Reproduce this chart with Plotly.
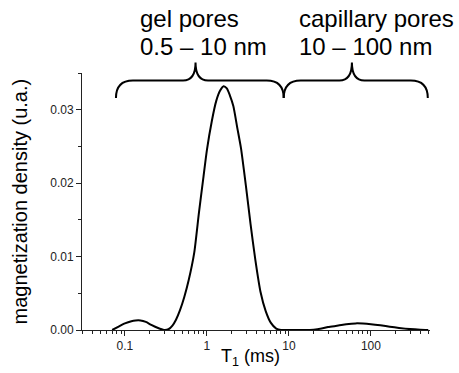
import plotly.graph_objects as go

# ---- data ----
t1_ms = [0.07, 0.085, 0.1, 0.12, 0.135, 0.155, 0.18, 0.21, 0.25, 0.30, 0.34, 0.38, 0.42, 0.47,
         0.53, 0.60, 0.70, 0.80, 0.90, 1.0, 1.15, 1.3, 1.45, 1.6, 1.75, 1.9, 2.1, 2.35, 2.6,
         3.0, 3.4, 3.9, 4.5, 5.2, 6.0, 7.0, 8.0, 10, 15, 20, 25, 30, 40, 50, 65, 80, 100,
         130, 170, 220, 300, 400, 500]
density = [0.0, 0.0005, 0.0009, 0.0012, 0.0013, 0.0013, 0.0011, 0.0007, 0.0003, 0.0, 0.0001,
           0.0006, 0.0014, 0.0027, 0.0045, 0.0068, 0.0105, 0.0160, 0.0205, 0.0245, 0.0285,
           0.0312, 0.0326, 0.0332, 0.0329, 0.0320, 0.0305, 0.0275, 0.0248, 0.0195, 0.0145,
           0.0095, 0.0052, 0.0026, 0.0010, 0.0002, 0.0, 0.0, 0.0, 0.00005, 0.0002, 0.0004,
           0.0006, 0.00078, 0.0009, 0.00088, 0.0008, 0.00065, 0.00045, 0.00028, 0.00012,
           0.00003, 0.0]

x_tickvals = [0.1, 1, 10, 100]
x_ticktext = ["0.1", "1", "10", "100"]
x_minor = [0.03, 0.04, 0.05, 0.06, 0.07, 0.08, 0.09,
           0.2, 0.3, 0.4, 0.5, 0.6, 0.7, 0.8, 0.9,
           2, 3, 4, 5, 6, 7, 8, 9,
           20, 30, 40, 50, 60, 70, 80, 90,
           200, 300, 400, 500]
y_tickvals = [0.0, 0.01, 0.02, 0.03]
y_ticktext = ["0.00", "0.01", "0.02", "0.03"]
y_minor = [0.005, 0.015, 0.025, 0.035]

region_labels = [["gel pores", "0.5 – 10 nm"], ["capillary pores", "10 – 100 nm"]]

# ---- layout geometry (pixels) ----
W, H = 459, 373
L, R, T, B = 82, 430.5, 73.3, 330.3
PW, PH = R - L, B - T


def px(x):
    return (x - L) / PW


def py(y):
    return (B - y) / PH


def brace(x0, xm, x1, ybot=98.3, yh=80.7, ytop=62.7, re=17.0, rc=12.5):
    pts = [
        f"M {px(x0)},{py(ybot)}",
        f"C {px(x0)},{py(yh + 6)} {px(x0 + 5)},{py(yh)} {px(x0 + re)},{py(yh)}",
        f"L {px(xm - rc)},{py(yh)}",
        f"C {px(xm - 3)},{py(yh)} {px(xm)},{py(yh - 7)} {px(xm)},{py(ytop)}",
        f"C {px(xm)},{py(yh - 7)} {px(xm + 3)},{py(yh)} {px(xm + rc)},{py(yh)}",
        f"L {px(x1 - re)},{py(yh)}",
        f"C {px(x1 - 5)},{py(yh)} {px(x1)},{py(yh + 6)} {px(x1)},{py(ybot)}",
    ]
    return " ".join(pts)


fig = go.Figure()
fig.add_trace(go.Scatter(x=t1_ms, y=density, mode="lines",
                         line=dict(color="black", width=2, shape="spline", smoothing=0.6),
                         hoverinfo="skip", showlegend=False, cliponaxis=False))

axis_common = dict(showline=True, linecolor="#222", linewidth=1, showgrid=False,
                   zeroline=False, ticks="outside", ticklen=5, tickwidth=1,
                   tickcolor="#222", tickfont=dict(family="Arial", size=12, color="#222"))

fig.update_xaxes(type="log", range=[-1.5229, 2.7202], tickmode="array",
                 tickvals=x_tickvals, ticktext=x_ticktext,
                 minor=dict(tickmode="array", tickvals=x_minor, ticks="outside",
                            ticklen=3, tickcolor="#222", tickwidth=1, showgrid=False),
                 **axis_common)
fig.update_yaxes(range=[0, 0.035], tickmode="array",
                 tickvals=y_tickvals, ticktext=y_ticktext,
                 minor=dict(tickmode="array", tickvals=y_minor, ticks="outside",
                            ticklen=3, tickcolor="#222", tickwidth=1, showgrid=False),
                 **axis_common)

shapes = [
    dict(type="path", xref="paper", yref="paper", path=brace(116, 195.7, 284),
         line=dict(color="black", width=2)),
    dict(type="path", xref="paper", yref="paper", path=brace(284, 352.3, 428.3),
         line=dict(color="black", width=2)),
]

ann_font = dict(family="Arial", size=24, color="black")
annotations = []
for (l1, l2), xl in zip(region_labels, [138.3, 297.3]):
    annotations.append(dict(text=l1, x=px(xl), y=py(18.7), xref="paper", yref="paper",
                            xanchor="left", yanchor="middle", showarrow=False, font=ann_font))
    annotations.append(dict(text=l2, x=px(xl), y=py(46.7), xref="paper", yref="paper",
                            xanchor="left", yanchor="middle", showarrow=False, font=ann_font))

annotations.append(dict(text="T<sub>1</sub> (ms)", x=px(251), y=py(358), xref="paper",
                        yref="paper", xanchor="center", yanchor="middle", showarrow=False,
                        font=dict(family="Arial", size=18, color="black")))
annotations.append(dict(text="magnetization density (u.a.)", x=px(19.7), y=py(202),
                        xref="paper", yref="paper", xanchor="center", yanchor="middle",
                        textangle=-90, showarrow=False,
                        font=dict(family="Arial", size=20, color="black")))

fig.update_layout(width=W, height=H, margin=dict(l=L, r=W - R, t=T, b=H - B),
                  paper_bgcolor="white", plot_bgcolor="white",
                  shapes=shapes, annotations=annotations, showlegend=False)

fig.write_html("out.html", config={"displayModeBar": False, "staticPlot": True},
               post_script="document.body.style.margin='0';document.body.style.overflow='hidden';")
